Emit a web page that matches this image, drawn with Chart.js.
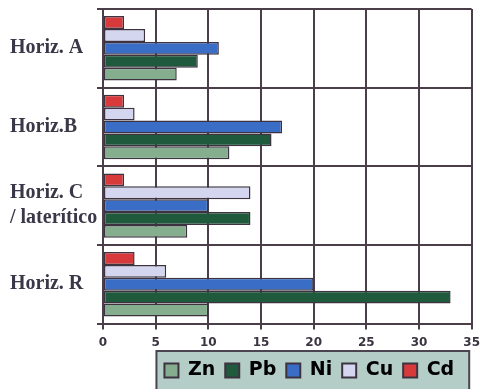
<!DOCTYPE html>
<html lang="pt">
<head>
	<meta charset="utf-8">
	<title>Horizontes</title>
	<script src="https://cdn.jsdelivr.net/npm/chart.js"></script>
	<style>
		html, body {margin:0; padding:0; background:#fff;}
		#wrap {width:486px; height:389px; position:relative;}
	</style>
</head>
<body>
	<div id="wrap"><canvas id="grafico"></canvas></div>

<script>
	// dados
	const horizontes = [["Horiz. A"], ["Horiz.B"], ["Horiz. C", "/ laterítico"], ["Horiz. R"]];
	const cd = [2, 2, 2, 3];
	const cu = [4, 3, 14, 6];
	const ni = [11, 17, 10, 20];
	const pb = [9, 16, 14, 33];
	const zn = [7, 12, 8, 10];
	const ticksX = [0, 5, 10, 15, 20, 25, 30, 35];

	const corLinha = "#4a3f48";

	function serie(label, data, cor) {
		return {
			label: label,
			data: data,
			backgroundColor: cor,
			borderColor: "#3d3340",
			borderWidth: 1.5,
			borderSkipped: false,
			categoryPercentage: 0.82,
			barPercentage: 1.0
		};
	}

	// desloca a legenda (direita / cima) e desenha a caixa de fundo
	const ajusteLegenda = {
		id: "ajusteLegenda",
		afterUpdate(chart) {
			const lg = chart.legend;
			if (!lg) return;
			const dx = 22, dy = -5;
			lg.left += dx;
			lg.right += dx;
			lg.top += dy;
			lg.bottom += dy;
			lg.legendHitBoxes.forEach(b => { b.left += dx; b.top += dy; });
		},
		beforeDraw(chart) {
			const lg = chart.legend;
			if (!lg || !lg.legendHitBoxes.length) return;
			const boxes = lg.legendHitBoxes;
			const ult = boxes[boxes.length - 1];
			const x0 = boxes[0].left - 8;
			const x1 = ult.left + ult.width + 15;
			const y0 = lg.top;
			const ctx = chart.ctx;
			ctx.save();
			ctx.fillStyle = "#b4cdc6";
			ctx.fillRect(x0, y0, x1 - x0, chart.height - y0 + 5);
			ctx.strokeStyle = "#4a4450";
			ctx.lineWidth = 2;
			ctx.strokeRect(x0, y0, x1 - x0, chart.height - y0 + 5);
			ctx.restore();
		}
	};

	new Chart(document.getElementById("grafico"), {
		type: "bar",
		data: {
			labels: horizontes,
			datasets: [
				serie("Cd", cd, "#d83a3c"),
				serie("Cu", cu, "#d4d6f0"),
				serie("Ni", ni, "#3a6ec6"),
				serie("Pb", pb, "#1f5a3c"),
				serie("Zn", zn, "#84ae8e")
			]
		},
		options: {
			indexAxis: "y",
			responsive: true,
			maintainAspectRatio: false,
			animation: false,
			layout: {padding: {left: 10, right: 9, top: 9, bottom: -6}},
			scales: {
				x: {
					min: 0, max: 35,
					afterBuildTicks(scale) { scale.ticks = ticksX.map(v => ({value: v})); },
					grid: {color: corLinha, lineWidth: 2, tickLength: 6, drawTicks: true},
					border: {color: corLinha, width: 2},
					ticks: {
						color: "#3a3440",
						font: {family: "DejaVu Sans", size: 12, weight: "bold"},
						padding: 6
					}
				},
				y: {
					grid: {color: corLinha, lineWidth: 2, tickLength: 6, offset: true},
					border: {color: corLinha, width: 2},
					afterFit(scale) {
						scale.width = 93;
						scale.paddingTop = 0;
						scale.paddingBottom = 0;
					},
					ticks: {
						crossAlign: "far",
						color: "#3a3848",
						font: {family: "Liberation Serif", size: 20, weight: "bold", lineHeight: 1.25}
					}
				}
			},
			plugins: {
				tooltip: {enabled: false},
				legend: {
					position: "bottom",
					reverse: true,
					fullSize: false,
					labels: {
						boxWidth: 14,
						boxHeight: 14,
						padding: 10,
						color: "#3a3440",
						font: {family: "DejaVu Sans", size: 19, weight: "bold"},
						generateLabels(chart) {
							return chart.data.datasets.map((ds, i) => ({
								text: ds.label,
								fillStyle: ds.backgroundColor,
								strokeStyle: "#3d3340",
								lineWidth: 2,
								datasetIndex: i,
								hidden: false
							}));
						}
					}
				}
			}
		},
		plugins: [ajusteLegenda]
	});
</script>
</body>
</html>
